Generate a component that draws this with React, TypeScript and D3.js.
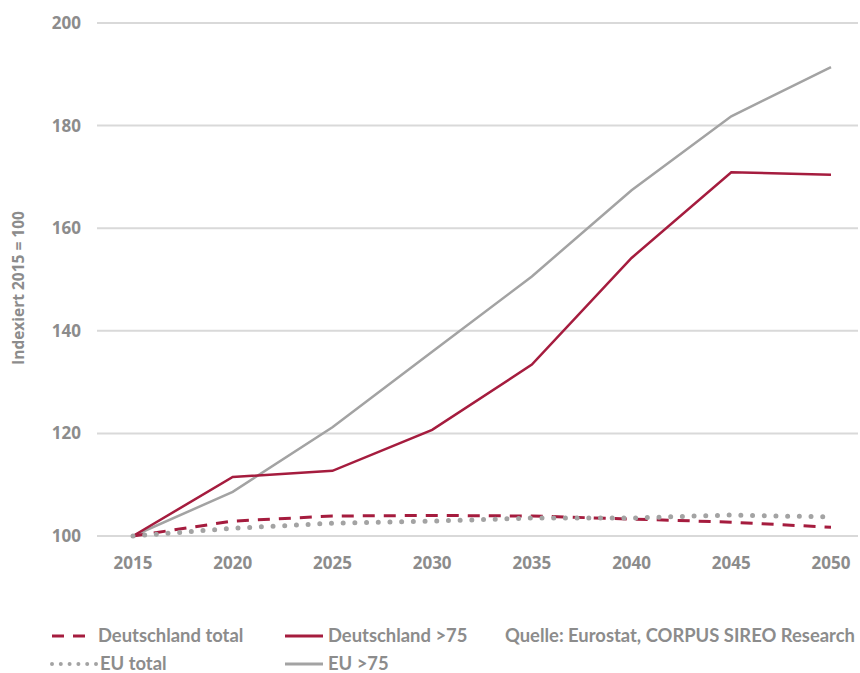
import React from "react";
import * as d3 from "d3";

const years = [2015, 2020, 2025, 2030, 2035, 2040, 2045, 2050];
const deTotal = [100, 102.9, 103.9, 104.0, 103.9, 103.3, 102.7, 101.7];
const de75 = [100, 111.5, 112.7, 120.7, 133.4, 154.2, 170.9, 170.4];
const euTotal = [100, 101.5, 102.5, 102.9, 103.5, 103.5, 104.1, 103.7];
const eu75 = [100, 108.6, 121.2, 135.9, 150.6, 167.4, 181.8, 191.4];
const yTicks = [100, 120, 140, 160, 180, 200];

const RED = "#a51c3e";
const GREY_LINE = "#a3a3a3";
const GRID = "#d9d9d9";
const TEXT = "#8c8c8c";
const AXIS_FONT = "'Open Sans', sans-serif";
const LEGEND_FONT = "Lato, sans-serif";

export default function App() {
  const W = 860, H = 673;
  const x = d3.scalePoint<number>().domain(years).range([133, 831]);
  const y = d3.scaleLinear().domain([100, 200]).range([536, 23]);
  const line = (vals: number[]) =>
    d3.line<number>().x((_, i) => x(years[i])!).y((v) => y(v))(vals) || "";

  return (
    <svg width={W} height={H} style={{ position: "absolute", left: 0, top: 0 }}>
      <g fontFamily={AXIS_FONT} fontWeight={700} fill={TEXT}>
        {yTicks.map((t) => (
          <g key={t}>
            <line x1={97} x2={858} y1={y(t)} y2={y(t)} stroke={GRID} strokeWidth={2} />
            <text x={81} y={y(t)} dy="0.35em" textAnchor="end" fontSize={17}>
              {t}
            </text>
          </g>
        ))}
        {years.map((yr) => (
          <text key={yr} x={x(yr)} y={563} dy="0.35em" textAnchor="middle" fontSize={17}>
            {yr}
          </text>
        ))}
        <text transform={`translate(24,288) rotate(-90)`} textAnchor="middle" fontSize={15.5} fontWeight={700}>
          Indexiert 2015 = 100
        </text>
      </g>

      <path d={line(eu75)} fill="none" stroke={GREY_LINE} strokeWidth={2.5} />
      <path d={line(de75)} fill="none" stroke={RED} strokeWidth={2.5} />
      <path d={line(deTotal)} fill="none" stroke={RED} strokeWidth={3} strokeDasharray="12 9" />
      <path d={line(euTotal)} fill="none" stroke={GREY_LINE} strokeWidth={5} strokeLinecap="round" strokeDasharray="0 11.7" />

      <g fontFamily={LEGEND_FONT} fontSize={18.4} fontWeight={700} fill={TEXT}>
        <line x1={52} x2={91} y1={636} y2={636} stroke={RED} strokeWidth={3} strokeDasharray="12 9" />
        <text x={98} y={636} dy="0.35em">Deutschland total</text>
        <line x1={285} x2={323} y1={636} y2={636} stroke={RED} strokeWidth={3} />
        <text x={328} y={636} dy="0.35em">Deutschland &gt;75</text>
        <text x={505} y={636} dy="0.35em">Quelle: Eurostat, CORPUS SIREO Research</text>
        <line x1={52} x2={97} y1={664} y2={664} stroke={GREY_LINE} strokeWidth={4} strokeLinecap="round" strokeDasharray="0 8.8" />
        <text x={100} y={664} dy="0.35em">EU total</text>
        <line x1={285} x2={323} y1={664} y2={664} stroke={GREY_LINE} strokeWidth={3} />
        <text x={328} y={664} dy="0.35em">EU &gt;75</text>
      </g>
    </svg>
  );
}
